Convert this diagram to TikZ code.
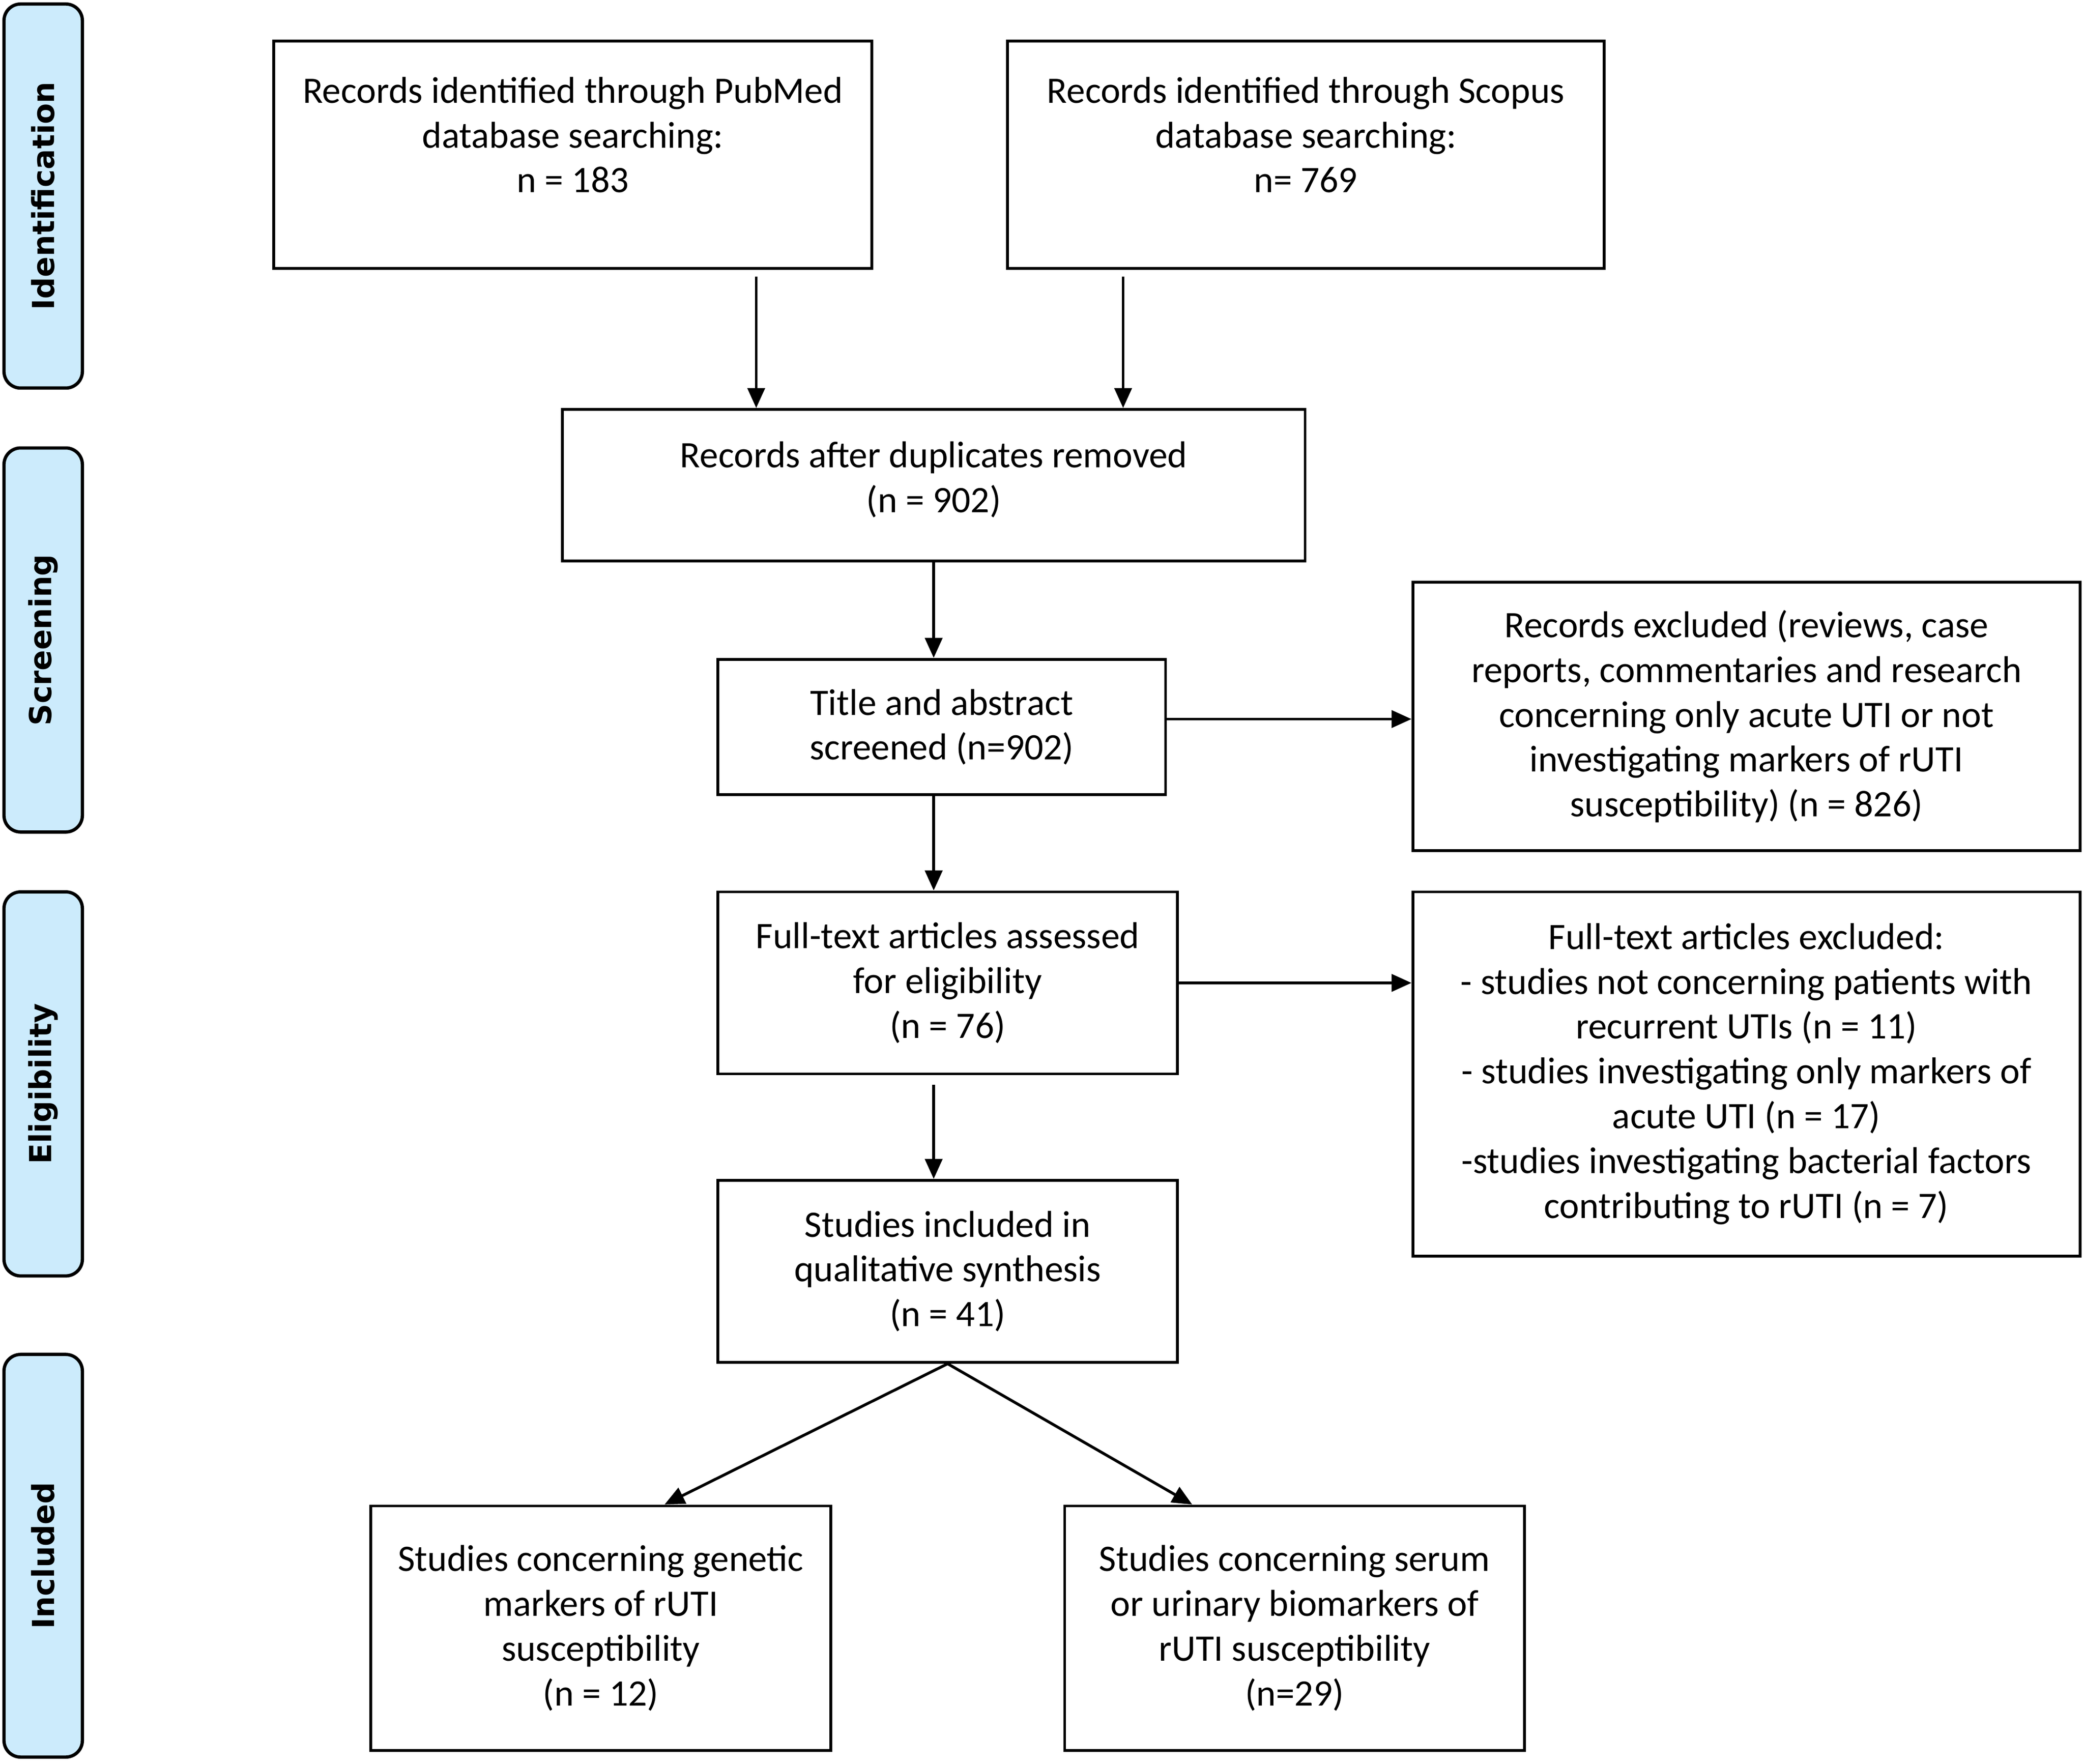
\documentclass[tikz,border=0pt]{standalone}
\usepackage{fontspec}
\setmainfont{Carlito}
\newfontfamily\phasefont{DejaVu Sans}
\usetikzlibrary{arrows.meta}
\definecolor{phaseblue}{RGB}{204,235,252}

\begin{document}
\begin{tikzpicture}[x=0.02cm, y=-0.02cm,
  flowbox/.style={draw, line width=1.2pt, align=center, inner sep=0pt, font=\fontsize{16}{19.2}\selectfont},
  boxtext/.style={align=center, inner sep=0pt, font=\fontsize{16}{19.2}\selectfont},
  phase/.style={draw, line width=1.4pt, fill=phaseblue, rounded corners=0.25cm, rotate=90,
    minimum width=5.78cm, minimum height=1.18cm, inner sep=0pt, font=\phasefont\bfseries\fontsize{13}{15}\selectfont},
  flow/.style={-{Triangle[length=0.3cm, width=0.26cm]}, line width=1.2pt}]
\useasboundingbox (0,0) rectangle (1568,1327);

% phases on the left
\node[phase] (ident) at (32.5,147.5) {Identification};
\node[phase] (screen) at (32.5,481.5) {Screening};
\node[phase] (elig) at (32.5,815.5) {Eligibility};
\node[phase, minimum width=6.06cm] (incl) at (32.5,1170.5) {Included};

% boxes
\node[flowbox, minimum width=9cm, minimum height=3.42cm,
  label={[boxtext, yshift=0.3cm]center:{Records identified through PubMed\\database searching:\\n = 183}}]
  (pubmed) at (431,116.5) {};
\node[flowbox, minimum width=8.98cm, minimum height=3.42cm,
  label={[boxtext, yshift=0.3cm]center:{Records identified through Scopus\\database searching:\\n= 769}}]
  (scopus) at (982.5,116.5) {};
\node[flowbox, minimum width=11.18cm, minimum height=2.28cm,
  label={[boxtext, yshift=0.08cm]center:{Records after duplicates removed\\(n = 902)}}]
  (dup) at (702.5,365) {};
\node[flowbox, minimum width=6.74cm, minimum height=2.04cm] (title) at (708.5,547)
  {Title and abstract\\screened (n=902)};
\node[flowbox, minimum width=10.04cm, minimum height=4.04cm] (excl) at (1314,539)
  {Records excluded (reviews, case\\reports, commentaries and research\\concerning only acute UTI or not\\investigating markers of rUTI\\susceptibility) (n = 826)};
\node[flowbox, minimum width=6.92cm, minimum height=2.74cm] (full) at (713,739.5)
  {Full-text articles assessed\\for eligibility\\(n = 76)};
\node[flowbox, minimum width=10.04cm, minimum height=5.48cm] (ftexcl) at (1314,808)
  {Full-text articles excluded:\\- studies not concerning patients with\\recurrent UTIs (n = 11)\\- studies investigating only markers of\\acute UTI (n = 17)\\-studies investigating bacterial factors\\contributing to rUTI (n = 7)};
\node[flowbox, minimum width=6.92cm, minimum height=2.74cm] (studies) at (713,956.5)
  {Studies included in\\qualitative synthesis\\(n = 41)};
\node[flowbox, minimum width=6.92cm, minimum height=3.68cm] (genetic) at (452,1225)
  {Studies concerning genetic\\markers of rUTI\\susceptibility\\(n = 12)};
\node[flowbox, minimum width=6.92cm, minimum height=3.68cm] (serum) at (974,1225)
  {Studies concerning serum\\or urinary biomarkers of\\rUTI susceptibility\\(n=29)};

% arrows
\coordinate (pm-out) at ([xshift=2.76cm, yshift=-0.1cm]pubmed.south);
\draw[flow] (pm-out) -- (pm-out |- dup.north);
\coordinate (sc-out) at ([xshift=-2.75cm, yshift=-0.1cm]scopus.south);
\draw[flow] (sc-out) -- (sc-out |- dup.north);
\draw[flow] (dup.south) -- (dup.south |- title.north);
\coordinate (ti-out) at ([yshift=0.12cm]title.east);
\draw[flow] (ti-out) -- (ti-out -| excl.west);
\draw[flow] (dup.south |- title.south) -- (dup.south |- full.north);
\draw[flow] (full.east) -- (full.east -| ftexcl.west);
\coordinate (fu-out) at (dup.south |- full.south);
\draw[flow] ([yshift=-0.14cm]fu-out) -- (fu-out |- studies.north);
\draw[flow] (studies.south) -- ([xshift=0.96cm]genetic.north);
\draw[flow] (studies.south) -- ([xshift=-1.54cm]serum.north);
\end{tikzpicture}
\end{document}
